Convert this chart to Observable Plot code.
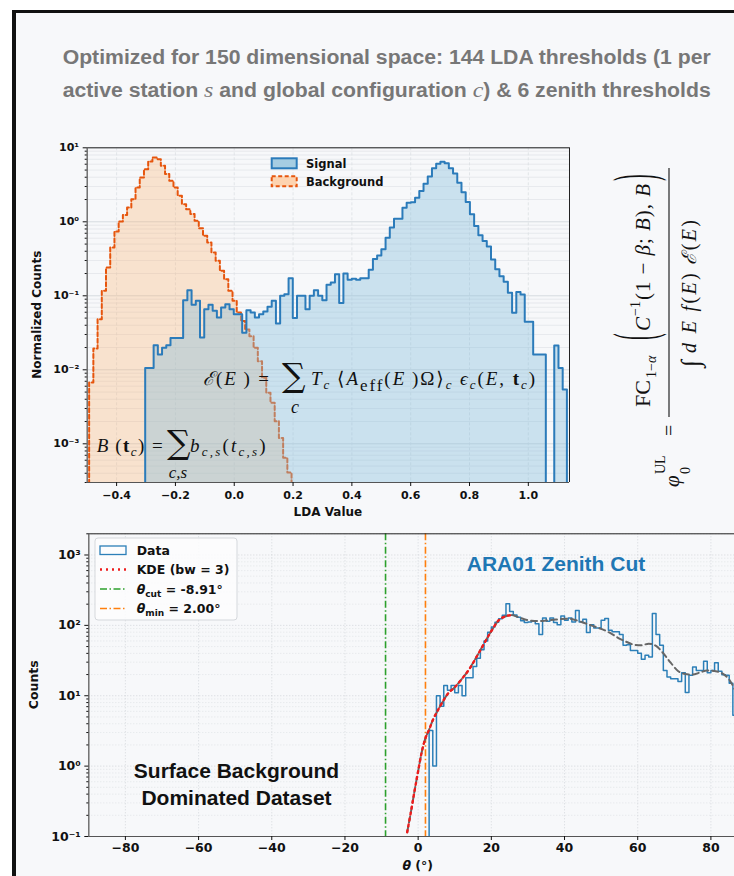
<!DOCTYPE html>
<html lang="en">
<head>
<meta charset="utf-8">
<title>ARA LDA and zenith cuts</title>
<script src="https://cdn.jsdelivr.net/npm/d3@7"></script>
<script src="https://cdn.jsdelivr.net/npm/@observablehq/plot@0.6"></script>
<style>
  html, body { margin: 0; padding: 0; width: 734px; height: 876px; overflow: hidden; background: #ffffff; }
  #sheet { position: absolute; left: 12px; top: 10px; width: 900px; height: 1000px; background: #f7f8fa;
           border-left: 4px solid #111; border-top: 3px solid #111; box-sizing: border-box; }
  .layer { position: absolute; left: 0; }
  #overlay { position: absolute; left: 0; top: 0; pointer-events: none; }
</style>
</head>
<body>
<div id="sheet"></div>
<div id="lda" class="layer" style="top:130px"></div>
<div id="zenith" class="layer" style="top:520px"></div>
<svg id="overlay" width="734" height="876"></svg>
<script>
// ---------- LDA value histograms (normalized counts per bin) ----------
const ldaBinWidth = 0.01434;
const signalStart = -0.3028;
const backgroundStart = -0.4934;
const signal = [
  0.0106, 0.0106, 0.0215, 0.0161, 0.0198, 0.0215, 0.027, 0.027, 0.027, 0.0873,
  0.119, 0.0755, 0.0855, 0.0273, 0.066, 0.0755, 0.0627, 0.0509, 0.0695, 0.0771,
  0.066, 0.0565, 0.0565, 0.0316, 0.064, 0.0596, 0.0509, 0.0565, 0.0614, 0.071,
  0.0855, 0.0423, 0.1, 0.105, 0.173, 0.05, 0.1, 0.1, 0.066, 0.1,
  0.119, 0.1, 0.087, 0.141, 0.151, 0.196, 0.08, 0.2, 0.165, 0.17,
  0.165, 0.172, 0.172, 0.225, 0.315, 0.35, 0.425, 0.61, 0.835, 1.1,
  1.1, 1.55, 1.81, 1.84, 2.12, 2.6, 3.28, 4.1, 5.3, 6.1,
  6.47, 6.2, 5.3, 4.5, 3.37, 2.5, 1.85, 1.26, 0.88, 0.66,
  0.55, 0.465, 0.31, 0.228, 0.184, 0.155, 0.11, 0.0589, 0.113, 0.104,
  0.0445, 0.0445, 0.0161, 0.0161, 0.0161, 0, 0, 0.0213, 0.0106, 0.00542
];
const background = [
  0.00675, 0.0194, 0.0484, 0.117, 0.242, 0.45, 0.74, 1.01, 1.24, 1.56,
  2.02, 2.91, 3.97, 5.15, 6.53, 7.40, 7.03, 5.71, 4.41, 3.58,
  2.91, 2.25, 1.73, 1.48, 1.27, 1.03, 0.821, 0.647, 0.526, 0.386,
  0.297, 0.218, 0.168, 0.117, 0.0855, 0.0596, 0.0455, 0.0351, 0.0285, 0.0198,
  0.0131, 0.0078, 0.00489, 0.00358, 0.00202, 0.0012, 0.00065, 0.00041
];
const ldaTicks = [-0.4, -0.2, 0, 0.2, 0.4, 0.6, 0.8, 1.0];
const ldaDecades = [1e-3, 1e-2, 1e-1, 1, 10];
const ldaDomain = [-0.5, 1.14];
const normDomain = [3e-4, 10];

// ---------- Zenith angle distribution ----------
const zenithStart = 3;
const zenithBinWidth = 1;
const zenithCounts = [
  3.2, 1.0, 10, 7.1, 14, 12, 14, 11, 14, 10,
  18, 18, 26, 34, 45, 60, 80, 95, 111, 124,
  139, 203, 158, 140, 130, 116, 110, 112, 114, 105,
  74, 127, 114, 127, 110, 102, 136, 118, 127, 112,
  163, 112, 122, 79, 102, 92, 92, 118, 125, 85,
  81, 81, 74, 52, 53, 44, 44, 40, 33, 37.5,
  35.5, 147, 74, 52, 22.9, 18.5, 17.5, 17.5, 16, 21.3,
  11.1, 19.5, 25.6, 22.9, 22.9, 30.8, 21.3, 22.9, 29.5, 22.2,
  19.9, 19.5, 15, 5.3
];
const kdeBandwidth = 3;
const kdeTheta = [-3, -2, -1, 0, 1, 2, 3, 4, 5, 6, 7, 8, 10, 12, 14, 16, 18, 20, 22, 24, 25.5,
  27, 29, 31, 33, 35, 37, 39, 41, 43, 45, 47, 49, 51, 53, 55, 57, 59, 61, 63, 65, 66, 67,
  69, 71, 73, 75, 77, 79, 81, 83, 85, 87, 89];
const kdeCounts = [0.115, 0.22, 0.44, 0.85, 1.6, 2.5, 3.3, 4.5, 5.7, 7.1, 8.7, 10.5, 13.2, 17.5, 24, 36, 55, 83, 118, 135, 140,
  133, 122, 116, 115, 117, 120, 123, 124, 119, 110, 101, 93, 85, 75, 65, 58, 53, 52, 55, 51, 46, 40,
  29.5, 22.5, 20.4, 20, 21.4, 22.9, 22.4, 20.9, 17, 11, 7];
const kdeRiseEnd = 25.5;
const thetaCut = -8.91;
const thetaMin = 2.00;
const thetaTicks = [-80, -60, -40, -20, 0, 20, 40, 60, 80];
const countDecades = [0.1, 1, 10, 100, 1000];
const thetaDomain = [-90, 90];
const countDomain = [0.1, 2000];

// ---------- helpers ----------
const SUP = {"-": "\u207B", "0": "\u2070", "1": "\u00B9", "2": "\u00B2", "3": "\u00B3", "4": "\u2074",
             "5": "\u2075", "6": "\u2076", "7": "\u2077", "8": "\u2078", "9": "\u2079"};
const pow10 = d => "10" + String(Math.round(Math.log10(d))).replace(/./g, c => SUP[c]);

function logMinors([lo, hi]) {
  const out = [];
  for (let e = Math.floor(Math.log10(lo)); e <= Math.ceil(Math.log10(hi)); e++)
    for (let m = 2; m <= 9; m++) { const v = m * 10 ** e; if (v >= lo && v <= hi) out.push(v); }
  return out;
}

// outline of a histogram drawn as a step curve, dropping to the floor at both ends
function stepPoints(start, width, values, floor) {
  const pts = [{x: start, y: floor}];
  values.forEach((v, i) => pts.push({x: start + i * width, y: v > 0 ? v : floor}));
  pts.push({x: start + values.length * width, y: floor});
  return pts;
}

const DV = "'DejaVu Sans', sans-serif";
const SERIF = "'Liberation Serif', 'DejaVu Serif', serif";
const ARIAL = "'Liberation Sans', Arial, sans-serif";

// ---------- LDA panel ----------
const ldaFloor = 1e-6;
const sigPts = stepPoints(signalStart, ldaBinWidth, signal, ldaFloor);
const bgPts = stepPoints(backgroundStart, ldaBinWidth, background, ldaFloor);

const ldaPlot = Plot.plot({
  width: 580, height: 400,
  marginLeft: 86.7, marginRight: 11, marginTop: 17.3, marginBottom: 48,
  style: {background: "transparent", maxWidth: "none", overflow: "visible",
          fontFamily: DV, fontWeight: "bold", fontSize: "11px", color: "#111"},
  x: {domain: ldaDomain, label: null},
  y: {type: "log", domain: normDomain, label: null},
  marks: [
    Plot.ruleY(logMinors(normDomain), {stroke: "#dfe2e6", strokeWidth: 0.7}),
    Plot.ruleY(ldaDecades, {stroke: "#d3d7dc", strokeWidth: 0.9}),
    Plot.ruleX(ldaTicks, {stroke: "#dcdfe3", strokeWidth: 0.8, strokeDasharray: "3,2"}),
    Plot.areaY(bgPts, {x: "x", y1: ldaFloor, y2: "y", curve: "step-after", fill: "#fdae6b", fillOpacity: 0.3, clip: true}),
    Plot.line(bgPts, {x: "x", y: "y", curve: "step-after", stroke: "#e6550d", strokeWidth: 2, strokeDasharray: "4,2.5", clip: true}),
    Plot.areaY(sigPts, {x: "x", y1: ldaFloor, y2: "y", curve: "step-after", fill: "#87bedc", fillOpacity: 0.4, clip: true}),
    Plot.line(sigPts, {x: "x", y: "y", curve: "step-after", stroke: "#2b7bba", strokeWidth: 2, clip: true}),
    Plot.ruleY([normDomain[1]], {stroke: "#222", strokeWidth: 1}),
    Plot.ruleX([ldaDomain[1]], {stroke: "#222", strokeWidth: 1}),
    Plot.ruleX([ldaDomain[0]], {stroke: "#666", strokeWidth: 1.4}),
    Plot.ruleY([normDomain[0]], {stroke: "#555", strokeWidth: 1.2}),
    Plot.axisX({ticks: ldaTicks, tickFormat: d3.format(".1f"), tickSize: 4, tickPadding: 5, label: null}),
    Plot.axisY({ticks: ldaDecades, tickFormat: pow10, tickSize: 4, tickPadding: 4, label: null}),
    Plot.axisY({ticks: logMinors(normDomain), tickFormat: () => "", tickSize: 2, label: null})
  ]
});
document.getElementById("lda").append(ldaPlot);

// ---------- Zenith panel ----------
const zenFloor = 1e-3;
const zenPts = stepPoints(zenithStart, zenithBinWidth, zenithCounts, zenFloor);
const kde = kdeTheta.map((t, i) => ({x: t, y: kdeCounts[i]}));

const zenPlot = Plot.plot({
  width: 760, height: 356,
  marginLeft: 88.3, marginRight: 13, marginTop: 13.3, marginBottom: 40,
  style: {background: "transparent", maxWidth: "none", overflow: "visible",
          fontFamily: DV, fontWeight: "bold", fontSize: "12.5px", color: "#111"},
  x: {domain: thetaDomain, label: null},
  y: {type: "log", domain: countDomain, label: null},
  marks: [
    Plot.ruleY(logMinors(countDomain), {stroke: "#d4d7db", strokeWidth: 0.6, strokeDasharray: "1,2"}),
    Plot.ruleY(countDecades, {stroke: "#c9cdd2", strokeWidth: 0.8, strokeDasharray: "1,2"}),
    Plot.ruleX(thetaTicks, {stroke: "#cdd1d6", strokeWidth: 0.8, strokeDasharray: "1,2"}),
    Plot.line(zenPts, {x: "x", y: "y", curve: "step-after", stroke: "#2c7fb8", strokeWidth: 1.5, clip: true}),
    Plot.ruleX([thetaCut], {stroke: "#2ca02c", strokeWidth: 1.6, strokeDasharray: "7,2.5,1.5,2.5"}),
    Plot.ruleX([thetaMin], {stroke: "#ff7f0e", strokeWidth: 1.6, strokeDasharray: "7,2.5,1.5,2.5"}),
    Plot.line(kde, {x: "x", y: "y", curve: "monotone-x", stroke: "#666", strokeWidth: 2, strokeDasharray: "6,4", clip: true}),
    Plot.line(kde.filter(d => d.x <= kdeRiseEnd), {x: "x", y: "y", curve: "monotone-x", stroke: "#ee1c1c",
      strokeWidth: 2.4, strokeDasharray: "2,4", clip: true}),
    Plot.text(["ARA01 Zenith Cut"], {text: d => d, frameAnchor: "top-left", dx: 467.2, dy: 30,
      textAnchor: "middle", lineAnchor: "middle", fontSize: 21, fontWeight: "bold", fontFamily: ARIAL, fill: "#1f77b4"}),
    Plot.text(["Surface Background\nDominated Dataset"], {text: d => d, frameAnchor: "top-left", dx: 147.7, dy: 249,
      textAnchor: "middle", lineAnchor: "middle", lineHeight: 1.3, fontSize: 21, fontWeight: "bold", fontFamily: ARIAL, fill: "#111"}),
    Plot.ruleY([countDomain[1]], {stroke: "#222", strokeWidth: 1}),
    Plot.ruleX([thetaDomain[0]], {stroke: "#666", strokeWidth: 1.4}),
    Plot.ruleY([countDomain[0]], {stroke: "#555", strokeWidth: 1.2}),
    Plot.axisX({ticks: thetaTicks, tickFormat: d3.format("d"), tickSize: 4, tickPadding: 3, label: null}),
    Plot.axisY({ticks: countDecades, tickFormat: pow10, tickSize: 4, tickPadding: 4, label: null}),
    Plot.axisY({ticks: logMinors(countDomain), tickFormat: () => "", tickSize: 2, label: null})
  ]
});
document.getElementById("zenith").append(zenPlot);

// ---------- annotations, legends, title ----------
const ov = d3.select("#overlay");

function rich(parent, x, y, parts, attrs = {}) {
  const t = parent.append("text").attr("x", x).attr("y", y);
  for (const [k, v] of Object.entries(attrs)) t.attr(k, v);
  for (const p of parts) {
    const [s, a = {}] = Array.isArray(p) ? p : [p];
    const ts = t.append("tspan").text(s);
    for (const [k, v] of Object.entries(a)) ts.attr(k, v);
  }
  return t;
}
const it = {"font-style": "italic"};
const sub = (s, size = 13, extra = {}) => [s, Object.assign({"font-style": "italic", "font-size": size, dy: 4}, extra)];
const up = (s, extra = {}) => [s, Object.assign({dy: -4}, extra)];

// title
const titleAttrs = {fill: "#777", "font-family": ARIAL, "font-weight": "bold", "font-size": 19.5,
  textLength: 648, lengthAdjust: "spacingAndGlyphs"};
const mathLetter = {"font-family": SERIF, "font-style": "italic", "font-weight": "normal", "font-size": 22};
rich(ov, 62.7, 64, ["Optimized for 150 dimensional space: 144 LDA thresholds (1 per"], titleAttrs);
rich(ov, 62.7, 97, ["active station ", ["s", mathLetter], " and global configuration ", ["c", mathLetter],
  ") & 6 zenith thresholds"], titleAttrs);

// axis titles
rich(ov, 0, 0, ["Normalized Counts"], {transform: "translate(41,314.7) rotate(-90)", "text-anchor": "middle",
  "font-family": DV, "font-weight": "bold", "font-size": 12, fill: "#111"});
rich(ov, 327.9, 516, ["LDA Value"], {"text-anchor": "middle", "font-family": DV, "font-weight": "bold", "font-size": 12, fill: "#111"});
rich(ov, 0, 0, ["Counts"], {transform: "translate(38,684.7) rotate(-90)", "text-anchor": "middle",
  "font-family": DV, "font-weight": "bold", "font-size": 12.5, fill: "#111"});
rich(ov, 417.7, 870, [["\u03B8", it], " (\u00B0)"], {"text-anchor": "middle", "font-family": DV, "font-weight": "bold", "font-size": 12.5, fill: "#111"});

// LDA legend
const ll = ov.append("g").attr("font-family", DV).attr("font-weight", "bold").attr("font-size", 11.5).attr("fill", "#111");
ll.append("rect").attr("x", 271.7).attr("y", 158.3).attr("width", 25).attr("height", 10)
  .attr("fill", "#a6cde2").attr("stroke", "#2b7bba").attr("stroke-width", 2);
ll.append("rect").attr("x", 271.7).attr("y", 176.3).attr("width", 25).attr("height", 10)
  .attr("fill", "#fdd3b0").attr("stroke", "#e6550d").attr("stroke-width", 2).attr("stroke-dasharray", "4,2.5");
rich(ll, 306, 167.5, ["Signal"]);
rich(ll, 306, 185.5, ["Background"]);

// formulas inside the LDA panel
const fm = ov.append("g").attr("font-family", SERIF).attr("font-size", 19).attr("fill", "#111");
rich(fm, 203, 385, [["\u2130", it], "(", ["E", it], "\u2009) ="], {textLength: 66, lengthAdjust: "spacing"});
rich(fm, 282, 387, ["\u2211"], {"font-size": 33, "font-family": "'DejaVu Serif', serif"});
rich(fm, 295, 413, [["c", it]], {"font-size": 18, "text-anchor": "middle"});
rich(fm, 311, 385, [["T", it], sub("c"), up("\u2009\u27E8"), ["A", it], sub("eff", 17, {"font-style": "normal", dy: 6}),
  ["(", {dy: -6}], ["E", it], "\u2009)\u03A9\u27E9", sub("c"), up(" "), ["\u03F5", it], sub("c"), up("("), ["E", it], ", ",
  ["t", {"font-weight": "bold"}], sub("c"), up(")")], {textLength: 224, lengthAdjust: "spacing"});

rich(fm, 96.8, 452, [["B", it], "\u2009(", ["t", {"font-weight": "bold"}], sub("c"), up(") =")], {textLength: 66, lengthAdjust: "spacing"});
rich(fm, 167, 454, ["\u2211"], {"font-size": 33, "font-family": "'DejaVu Serif', serif"});
rich(fm, 178, 478, [["c,s", it]], {"font-size": 17, "text-anchor": "middle"});
rich(fm, 190, 452, [["b", it], sub("c,s"), up("("), ["t", it], sub("c,s"), up(")")], {textLength: 75.7, lengthAdjust: "spacing"});

// upper-limit formula, set vertically beside the panel
const rf = ov.append("g").attr("transform", "translate(669,417) rotate(-90)")
  .attr("font-family", SERIF).attr("fill", "#111").attr("font-size", 20);
rf.append("line").attr("x1", 0).attr("x2", 249).attr("y1", 0).attr("y2", 0).attr("stroke", "#111").attr("stroke-width", 1.1);
rich(rf, 10, -19, ["FC"], {"font-size": 22});
rich(rf, 39, -13, ["1\u2212", ["\u03B1", it]], {"font-size": 14});
rich(rf, 0, 0, ["("], {transform: "translate(77,-15) scale(1,3)"});
rich(rf, 86, -19, [["C", it]], {"font-size": 21});
rich(rf, 101, -29, ["\u22121"], {"font-size": 14});
rich(rf, 117, -19, ["(1 \u2212 ", ["\u03B2", it], "; ", ["B", it], "), ", ["B", it]], {textLength: 116, lengthAdjust: "spacing", "font-size": 21});
rich(rf, 0, 0, [")"], {transform: "translate(236,-15) scale(1,3)"});
rich(rf, 50, 30, ["\u222B"], {"font-size": 26});
rich(rf, 64, 27, [["d", it], " ", ["E", it], " ", ["f", it], "(", ["E", it], ")\u2009", ["\u2130", it], "(", ["E", it], ")"],
  {textLength: 133, lengthAdjust: "spacing"});
rich(rf, -70, 10, [["\u03C6", it]], {"font-size": 21});
rich(rf, -57, -4, ["UL"], {"font-size": 14});
rich(rf, -57, 21, ["0"], {"font-size": 14});
rich(rf, -19, 7, ["="]);

// zenith legend
const lg = ov.append("g").attr("font-family", DV).attr("font-weight", "bold").attr("font-size", 12.5).attr("fill", "#111");
lg.append("rect").attr("x", 95).attr("y", 538).attr("width", 142).attr("height", 82).attr("rx", 3)
  .attr("fill", "#fcfcfd").attr("fill-opacity", 0.9).attr("stroke", "#d5d8dc");
lg.append("rect").attr("x", 100).attr("y", 546).attr("width", 26).attr("height", 8.5)
  .attr("fill", "none").attr("stroke", "#2c7fb8").attr("stroke-width", 1.3);
const swatch = (y, color, dash, w) => lg.append("line").attr("x1", 100).attr("x2", 126).attr("y1", y).attr("y2", y)
  .attr("stroke", color).attr("stroke-width", w).attr("stroke-dasharray", dash);
swatch(569.5, "#ee1c1c", "2,4", 2.4);
swatch(589, "#2ca02c", "7,2.5,1.5,2.5", 1.6);
swatch(608.5, "#ff7f0e", "7,2.5,1.5,2.5", 1.6);
rich(lg, 136.7, 555, ["Data"]);
rich(lg, 136.7, 574, [`KDE (bw = ${kdeBandwidth})`]);
rich(lg, 136.7, 593.5, [["\u03B8", it], ["cut", {"font-size": 9, dy: 3}], [` = ${thetaCut.toFixed(2)}\u00B0`, {dy: -3}]]);
rich(lg, 136.7, 613, [["\u03B8", it], ["min", {"font-size": 9, dy: 3}], [` = ${thetaMin.toFixed(2)}\u00B0`, {dy: -3}]]);
</script>
</body>
</html>
